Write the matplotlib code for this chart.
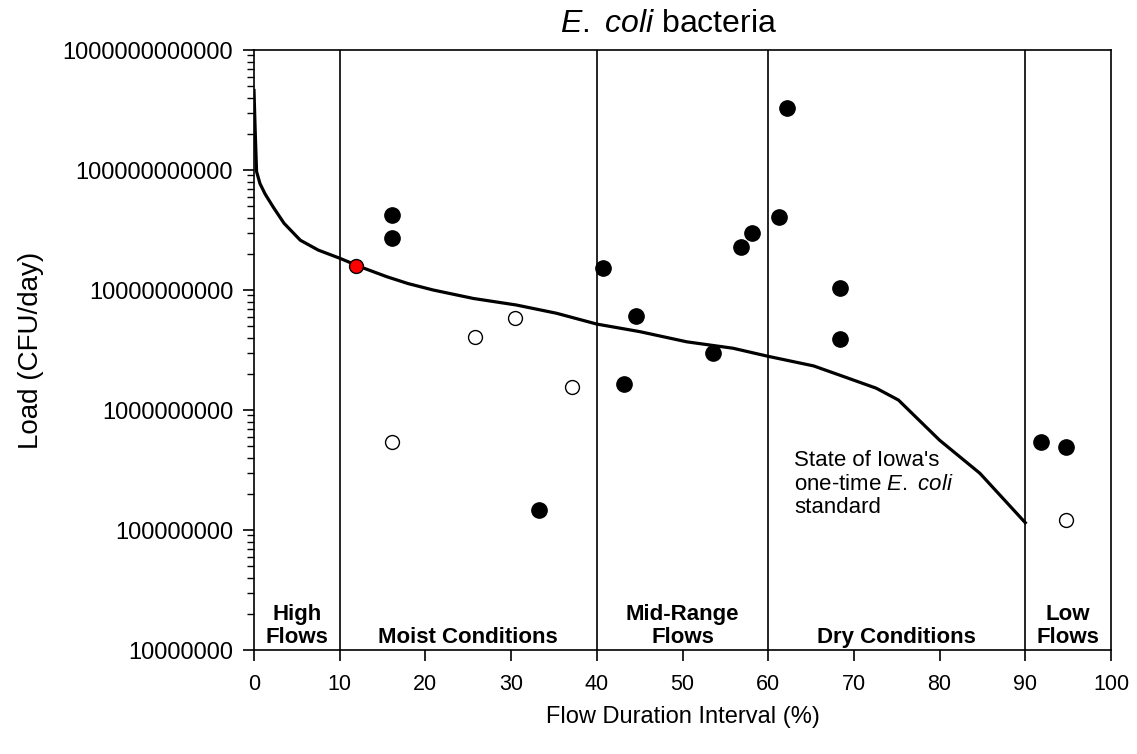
import matplotlib
matplotlib.use("Agg")
import matplotlib.pyplot as plt
import numpy as np
from matplotlib.ticker import FixedLocator, LogLocator, NullFormatter, FuncFormatter

plt.rcParams['font.family'] = ['Liberation Sans', 'DejaVu Sans']
plt.rcParams['mathtext.fontset'] = 'custom'
plt.rcParams['mathtext.rm'] = 'Liberation Sans'
plt.rcParams['mathtext.it'] = 'Liberation Sans:italic'

# Load duration curve (standard)
curve_x = [0.0, 0.15, 0.3, 0.7, 1.3, 2.25, 3.5, 5.4, 7.5, 10.0, 12.5, 15.5, 18, 20.9, 25.6, 30.6, 35.3, 40.0, 45.0, 50.5, 55.9, 60.0, 65.3, 68.8, 72.6, 75.2, 80.0, 84.7, 90.0]
curve_y = [4.6e11, 2.0e11, 9.7e10, 7.7e10, 6.3e10, 4.9e10, 3.6e10, 2.6e10, 2.15e10, 1.84e10, 1.55e10, 1.29e10, 1.13e10, 1.0e10, 8.5e9, 7.5e9, 6.4e9, 5.2e9, 4.5e9, 3.7e9, 3.27e9, 2.8e9, 2.33e9, 1.9e9, 1.52e9, 1.21e9, 5.6e8, 2.97e8, 1.15e8]

# Observed loads
filled_x = [16.1, 16.1, 33.2, 40.7, 43.2, 44.6, 53.6, 56.8, 58.1, 61.3, 62.2, 68.4, 68.4, 91.8, 94.8]
filled_y = [4.2e10, 2.7e10, 1.47e8, 1.52e10, 1.64e9, 6.07e9, 2.97e9, 2.27e10, 2.97e10, 4.03e10, 3.3e11, 1.04e10, 3.88e9, 5.4e8, 4.9e8]
open_x = [16.1, 25.8, 30.4, 37.1, 94.8]
open_y = [5.4e8, 4.08e9, 5.8e9, 1.56e9, 1.2e8]
red_x = [11.9]
red_y = [1.57e10]

zone_bounds = [10, 40, 60, 90]
zone_labels = ["High\nFlows", "Moist Conditions", "Mid-Range\nFlows", "Dry Conditions", "Low\nFlows"]
zone_centers = [5, 25, 50, 75, 95]

xticks = [0, 10, 20, 30, 40, 50, 60, 70, 80, 90, 100]
yticks = [1e7, 1e8, 1e9, 1e10, 1e11, 1e12]

fig = plt.figure(figsize=(11.37, 7.54), dpi=100)
ax = fig.add_axes([254/1137, 1 - 650/754, (1111-254)/1137, 600/754])

ax.set_yscale('log')
ax.set_xlim(0, 100)
ax.set_ylim(1e7, 1e12)

for b in zone_bounds:
    ax.axvline(b, color='black', lw=1.2, zorder=1)

ax.plot(curve_x, curve_y, color='black', lw=2.3, zorder=2)
ax.plot(filled_x, filled_y, 'o', ms=11, mfc='black', mec='black', zorder=3)
ax.plot(open_x, open_y, 'o', ms=10, mfc='white', mec='black', mew=1.0, zorder=3)
ax.plot(red_x, red_y, 'o', ms=10, mfc='red', mec='black', mew=1.0, zorder=4)

for xc, lab in zip(zone_centers, zone_labels):
    ax.text(xc, 1.15e7, lab, ha='center', va='baseline', fontsize=16, fontweight='bold', linespacing=1.1)

ax.text(63.0, 4.6e8, "State of Iowa's\none-time $\\mathit{E.}$ $\\mathit{coli}$\nstandard", ha='left', va='top', fontsize=16, linespacing=1.15)

ax.set_xticks(xticks)
ax.yaxis.set_major_locator(FixedLocator(yticks))
ax.yaxis.set_minor_locator(LogLocator(base=10, subs=np.arange(2, 10)))
ax.yaxis.set_minor_formatter(NullFormatter())
ax.yaxis.set_major_formatter(FuncFormatter(lambda v, p: "%d" % round(v)))
ax.xaxis.set_minor_locator(FixedLocator([]))

ax.tick_params(axis='both', which='major', direction='out', length=8, width=1.2)
ax.tick_params(axis='x', which='major', labelsize=15.5, pad=9)
ax.tick_params(axis='y', which='major', labelsize=17, pad=7)
ax.tick_params(axis='y', which='minor', direction='out', length=5, width=1.0)
for s in ax.spines.values():
    s.set_linewidth(1.2)

ax.set_xlabel("Flow Duration Interval (%)", fontsize=17, labelpad=8)
ax.set_ylabel("Load (CFU/day)", fontsize=20, labelpad=13)
fig.text(669/1137, 1 - 32/754, "$\\mathit{E.}$ $\\mathit{coli}$ bacteria", fontsize=23, ha='center', va='baseline')

fig.savefig("out.png", dpi=100)
